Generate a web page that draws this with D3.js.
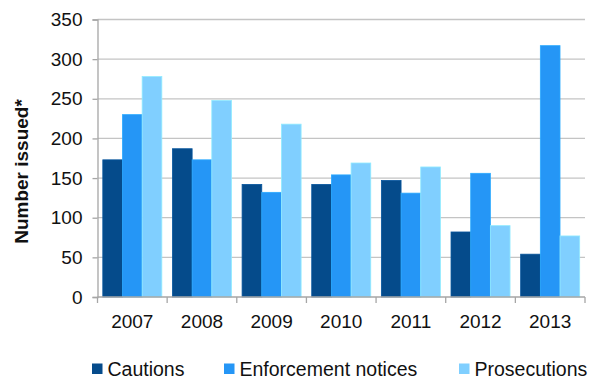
<!DOCTYPE html>
<html>
<head>
<meta charset="utf-8">
<script src="https://cdn.jsdelivr.net/npm/d3@7"></script>
<style>
  html, body { margin: 0; padding: 0; background: #fff; }
  svg { display: block; font-family: "Liberation Sans", Arial, sans-serif; }
</style>
</head>
<body>
<svg id="chart" width="596" height="381"></svg>
<script>
// Yearly counts by enforcement action
const years = ["2007", "2008", "2009", "2010", "2011", "2012", "2013"];
const seriesNames = ["Cautions", "Enforcement notices", "Prosecutions"];
const cautions = [173, 187, 142, 142, 147, 82, 54];
const enforcementNotices = [230, 173, 132, 154, 131, 156, 317];
const prosecutions = [278, 248, 218, 169, 164, 90, 77];
const yTicks = [0, 50, 100, 150, 200, 250, 300, 350];
const colors = ["#054b8b", "#2596f6", "#80cfff"];

const seriesValues = [cautions, enforcementNotices, prosecutions];

const svg = d3.select("#chart");
const margin = { top: 19.5, right: 11, bottom: 84, left: 97.5 };
const width = 596 - margin.left - margin.right;
const height = 381 - margin.top - margin.bottom;

const g = svg.append("g").attr("transform", `translate(${margin.left},${margin.top})`);

const x0 = d3.scaleBand().domain(years).range([0, width]).paddingInner(0).paddingOuter(0);
const x1 = d3.scaleBand().domain(seriesNames).range([0, x0.bandwidth()]).paddingOuter(0.27).paddingInner(0);
const y = d3.scaleLinear().domain([0, 350]).range([height, 0]);

// Horizontal gridlines
g.append("g")
  .selectAll("line")
  .data(yTicks.filter(d => d > 0))
  .join("line")
  .attr("x1", 0).attr("x2", width)
  .attr("y1", d => y(d)).attr("y2", d => y(d))
  .attr("stroke", "#c4c4c4").attr("stroke-width", 1.3);

// Bars
const groups = g.append("g")
  .selectAll("g")
  .data(years)
  .join("g")
  .attr("transform", d => `translate(${x0(d)},0)`);

groups.selectAll("rect")
  .data((yr, i) => seriesNames.map((s, j) => ({ s, j, v: seriesValues[j][i] })))
  .join("rect")
  .attr("x", d => x1(d.s))
  .attr("y", d => y(d.v))
  .attr("width", x1.bandwidth())
  .attr("height", d => height - y(d.v))
  .attr("fill", d => colors[d.j])
  .attr("stroke", d => d3.color(colors[d.j]).brighter(0.35))
  .attr("stroke-width", 0.8);

// Y axis
const yAxis = g.append("g")
  .call(d3.axisLeft(y).tickValues(yTicks).tickSize(5).tickPadding(10).tickFormat(d3.format("d")));
yAxis.select(".domain").attr("stroke", "#a6a6a6").attr("stroke-width", 1.3);
yAxis.selectAll(".tick line").attr("stroke", "#a6a6a6").attr("stroke-width", 1.3);
yAxis.selectAll(".tick text").attr("font-size", 19).attr("fill", "#111");

// X axis with boundary ticks between categories
const xAxis = g.append("g").attr("transform", `translate(0,${height})`);
xAxis.append("line")
  .attr("x1", 0).attr("x2", width)
  .attr("stroke", "#a6a6a6").attr("stroke-width", 1.3);
xAxis.selectAll("line.bound")
  .data(years.map(d => x0(d)).concat([width]))
  .join("line")
  .attr("class", "bound")
  .attr("x1", d => d).attr("x2", d => d)
  .attr("y1", 0).attr("y2", 6)
  .attr("stroke", "#a6a6a6").attr("stroke-width", 1.3);
xAxis.selectAll("text")
  .data(years)
  .join("text")
  .attr("x", d => x0(d) + x0.bandwidth() / 2)
  .attr("y", 30.5)
  .attr("text-anchor", "middle")
  .attr("font-size", 19)
  .attr("fill", "#111")
  .text(d => d);

// Y axis title
svg.append("text")
  .attr("transform", `translate(27.5,171.5) rotate(-90)`)
  .attr("text-anchor", "middle")
  .attr("font-size", 19)
  .attr("font-weight", "bold")
  .attr("fill", "#111")
  .text("Number issued*");

// Legend
const legendX = [92, 224, 459];
const legend = svg.append("g").attr("transform", "translate(0,369)");
const items = legend.selectAll("g")
  .data(seriesNames)
  .join("g")
  .attr("transform", (d, i) => `translate(${legendX[i]},0)`);
items.append("rect")
  .attr("x", 0).attr("y", -5.5)
  .attr("width", 10.5).attr("height", 10.5)
  .attr("fill", (d, i) => colors[i]);
items.append("text")
  .attr("x", 15.5).attr("y", 7)
  .attr("font-size", 19.5)
  .attr("fill", "#111")
  .text(d => d);
</script>
</body>
</html>
